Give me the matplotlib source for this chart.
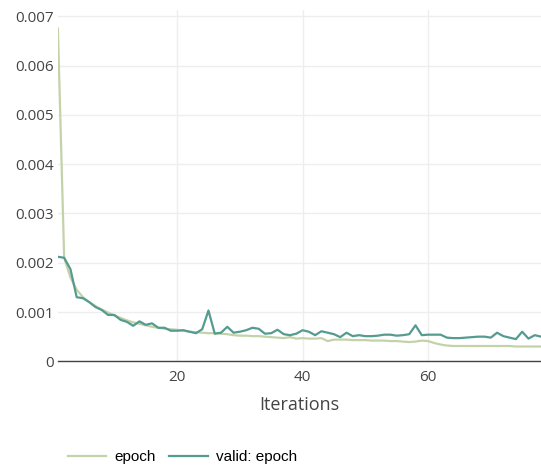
import matplotlib
matplotlib.use('Agg')
import matplotlib.pyplot as plt

# training loss per iteration
iterations = list(range(1, 79))
epoch = [0.00675, 0.0021, 0.0017, 0.00145, 0.0013, 0.0012, 0.00112, 0.00105, 0.00099, 0.00093,
         0.00088, 0.00083, 0.00079, 0.00076, 0.00073, 0.0007, 0.00068, 0.00066, 0.00065, 0.00064,
         0.00062, 0.0006, 0.00059, 0.00058, 0.00057, 0.00057, 0.00056, 0.00055, 0.00053, 0.00052,
         0.00052, 0.00051, 0.00051, 0.0005, 0.00049, 0.00048, 0.00047, 0.00049, 0.00046, 0.00047,
         0.00046, 0.00046, 0.00047, 0.00041, 0.00044, 0.00044, 0.00044, 0.00043, 0.00043, 0.00043,
         0.00042, 0.00042, 0.00042, 0.00041, 0.00041, 0.0004, 0.00039, 0.0004, 0.00042, 0.00041,
         0.00037, 0.00034, 0.00032, 0.00031, 0.00031, 0.00031, 0.00031, 0.00031, 0.00031, 0.00031,
         0.00031, 0.00031, 0.00031, 0.0003, 0.0003, 0.0003, 0.0003, 0.0003]
valid_epoch = [0.00212, 0.0021, 0.00187, 0.0013, 0.00128, 0.0012, 0.0011, 0.00104, 0.00094, 0.00094,
               0.00084, 0.0008, 0.00072, 0.00081, 0.00074, 0.00077, 0.00068, 0.00068, 0.00062, 0.00062,
               0.00063, 0.0006, 0.00057, 0.00065, 0.00103, 0.00056, 0.00058, 0.0007, 0.00058, 0.0006,
               0.00063, 0.00068, 0.00066, 0.00056, 0.00057, 0.00064, 0.00055, 0.00053, 0.00056, 0.00063,
               0.0006, 0.00053, 0.00061, 0.00058, 0.00055, 0.00049, 0.00058, 0.00051, 0.00053, 0.00051,
               0.00051, 0.00052, 0.00054, 0.00054, 0.00052, 0.00053, 0.00055, 0.00073, 0.00053, 0.00054,
               0.00054, 0.00054, 0.00048, 0.00047, 0.00047, 0.00048, 0.00049, 0.0005, 0.0005, 0.00048,
               0.00058, 0.00051, 0.00048, 0.00045, 0.0006, 0.00046, 0.00053, 0.0005]

yticks = [0, 0.001, 0.002, 0.003, 0.004, 0.005, 0.006, 0.007]
ylabels = ['0', '0.001', '0.002', '0.003', '0.004', '0.005', '0.006', '0.007']
xticks = [20, 40, 60]

fig = plt.figure(figsize=(5.41, 4.68), dpi=100)
ax = fig.add_axes([0.107, 0.228, 0.893, 0.751])

ax.plot(iterations, epoch, color='#c4d2a9', lw=1.6, label='epoch')
ax.plot(iterations, valid_epoch, color='#559b90', lw=1.6, label='valid: epoch')

ax.set_xlim(1, 78)
ax.set_ylim(0, 0.00713)
ax.set_xticks(xticks)
ax.set_yticks(yticks)
ax.set_yticklabels(ylabels)
ax.set_yticks([0], minor=True)
ax.grid(True, color='#eeeeee', lw=1)
ax.set_axisbelow(True)

for s in ['top', 'right', 'left']:
    ax.spines[s].set_visible(False)
ax.spines['bottom'].set_color('#444444')
ax.spines['bottom'].set_linewidth(1)

ax.tick_params(axis='both', which='major', length=0, labelsize=11, labelcolor='#444444')
ax.tick_params(axis='x', pad=6)
ax.tick_params(axis='y', pad=3)
ax.tick_params(axis='y', which='minor', length=4, color='#444444', width=1)
for lab in ax.get_xticklabels() + ax.get_yticklabels():
    lab.set_family('Open Sans')

ax.set_xlabel('Iterations', fontsize=13, color='#444444', family='Open Sans', labelpad=8)

fig.legend(loc='center left', bbox_to_anchor=(0.125, 0.0235), bbox_transform=fig.transFigure,
           ncol=2, frameon=False, borderpad=0, borderaxespad=0,
           prop={'family': 'Liberation Sans', 'size': 11}, handlelength=2.5,
           columnspacing=0.9, handletextpad=0.55)

fig.savefig('out.png', dpi=100)
